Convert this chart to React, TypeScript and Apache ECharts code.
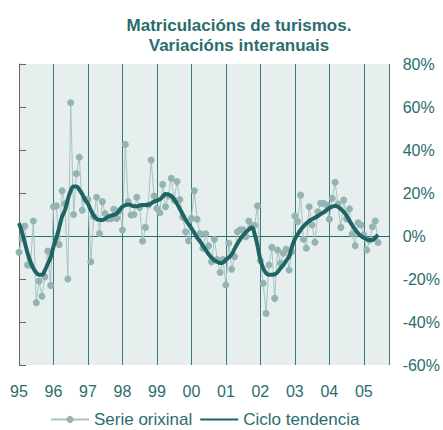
import React, { useEffect, useRef } from "react";
import * as echarts from "echarts";

const yearLabels = ["95", "96", "97", "98", "99", "00", "01", "02", "03", "04", "05"];

// Monthly year-on-year change (%), Jan 1995 – Jun 2005
const serieOrixinal = [
  -7.6, -1, 4.6, -13.5, -13.5, 7, -31, -21, -28, -19, -7, -23,
  13.6, 14, -4, 21, 15, -20, 62, 10, 29, 36.6, 12, 17,
  17, -12, 9, 18, 1.2, 16, 10.5, 8, 8, 12.4, 8.2, 11.8,
  2.8, 42.6, 16, 9.8, 10, 18, 13.3, -2.3, 4, 14.4, 35.3, 18.6,
  12.9, 10.8, 24, 13.6, 18.6, 26.8, 16.7, 25.3, 17, 8.7, 2, -2.2,
  8.2, 21, 7.8, 1.2, -5.7, 1, -4.6, -12, -1.5, -11, -17, -11,
  -22.8, -3.4, -15.5, -9.6, 2, 2.9, 2.9, -0.3, 7, 4.3, 5, 14,
  -11.5, -22, -36, -13.5, -5.3, -29, -6.5, -12.7, -8, -6.2, -15.8, -7.3,
  9.3, 6.7, 19, -1.5, -5.7, 13.6, 5.1, -2.9, 11.3, 15.2, 15.2, 14.4,
  7.8, 17.5, 25, 14.9, 4, 16.7, 7.9, 12.6, 0.9, -4.5, 6.2, 5.1,
  0.5, -6.5, -2, 4.3, 7, -3,
];

const cicloTendencia = [
  6, 2, -3, -8, -12, -15, -17, -18, -18, -16, -13, -10,
  -5, -1, 4, 9, 12, 17, 21, 23, 23, 21.5, 19.5, 17,
  15, 12, 9.5, 8, 7.5, 7.4, 8, 9, 9.5, 9.8, 10.5, 12,
  13.6, 14.3, 14.7, 14.3, 13.8, 13.8, 14.2, 14.4, 14.4, 14.5, 15.2, 16,
  16.5, 17, 18.3, 19.5, 19.3, 18.6, 17, 15, 12.5, 10, 7.5, 5.5,
  3.6, 1.5, -0.8, -2.5, -4.5, -6.5, -8.5, -10, -11.3, -12, -12.6, -12.3,
  -11, -10, -8.5, -6, -3.6, -1.5, 0.3, 1.8, 3, 4, 1, -4.5,
  -11, -15, -17.3, -18, -18, -17.8, -16.8, -15, -13.5, -11.5, -9.5, -5,
  -1.5, 0.8, 2.8, 4.5, 5.8, 7, 7.8, 8.5, 9.3, 10.2, 11, 12,
  13, 13.7, 14, 13.6, 12.5, 11.3, 9.5, 7.2, 5, 3, 1.3, 0,
  -0.8, -1.5, -1.9, -1.9, -0.8, 0.5,
];

const TEAL = "#2b6d6d";
const FONT = "Arial, 'Liberation Sans', sans-serif";

export default function App() {
  const ref = useRef<HTMLDivElement>(null);

  useEffect(() => {
    document.body.style.margin = "0";
    if (!ref.current) return;
    const chart = echarts.init(ref.current, undefined, { renderer: "svg" });
    const toPairs = (arr: number[]) => arr.map((v, i) => [i, v]);
    chart.setOption({
      animation: false,
      title: {
        text: "Matriculacións de turismos.\nVariacións interanuais",
        left: 234,
        textAlign: "center",
        top: 10,
        textStyle: {
          color: TEAL,
          fontFamily: FONT,
          fontWeight: "bold",
          fontSize: 17,
          lineHeight: 20,
        },
      },
      grid: {
        left: 19,
        right: 52,
        top: 64,
        bottom: 65,
        show: true,
        backgroundColor: "#e6eeee",
        borderWidth: 0,
      },
      xAxis: {
        type: "value",
        min: 0,
        max: 129,
        interval: 12,
        axisLine: { show: false },
        axisTick: { show: false },
        axisLabel: {
          color: TEAL,
          fontFamily: FONT,
          fontSize: 16,
          margin: 18,
          formatter: (v: number) =>
            v % 12 === 0 && v / 12 < yearLabels.length ? yearLabels[v / 12] : "",
        },
        splitLine: { show: true, lineStyle: { color: "#3a7a7a", width: 1 } },
      },
      yAxis: {
        type: "value",
        position: "right",
        min: -60,
        max: 80,
        interval: 20,
        axisLine: { show: true, lineStyle: { color: "#666666", width: 1 } },
        axisTick: { show: true, inside: false, length: 7, lineStyle: { color: "#666666" } },
        axisLabel: {
          color: TEAL,
          fontFamily: FONT,
          fontSize: 16,
          margin: 13,
          formatter: "{value}%",
        },
        splitLine: {
          show: true,
          lineStyle: {
            color: [
              "transparent",
              "transparent",
              "transparent",
              TEAL,
              "transparent",
              "transparent",
              "transparent",
              "transparent",
            ],
            width: 1,
          },
        },
      },
      legend: {
        data: [
          { name: "Serie orixinal" },
          { name: "Ciclo tendencia", itemStyle: { opacity: 0 } },
        ],
        left: 45,
        top: 406,
        itemWidth: 38,
        itemHeight: 9,
        itemGap: 7,
        textStyle: { color: TEAL, fontFamily: FONT, fontSize: 17, lineHeight: 16 },
      },
      series: [
        {
          name: "Serie orixinal",
          type: "line",
          data: toPairs(serieOrixinal),
          symbol: "circle",
          symbolSize: 7,
          showSymbol: true,
          itemStyle: { color: "#94b4b4" },
          lineStyle: { color: "#a8c3c3", width: 1 },
          z: 2,
        },
        {
          name: "Ciclo tendencia",
          type: "line",
          data: toPairs(cicloTendencia),
          symbol: "none",
          smooth: true,
          itemStyle: { color: "#1f6464" },
          lineStyle: { color: "#1f6464", width: 4 },
          z: 3,
        },
      ],
    });
    return () => chart.dispose();
  }, []);

  return <div ref={ref} style={{ width: 443, height: 430 }} />;
}
